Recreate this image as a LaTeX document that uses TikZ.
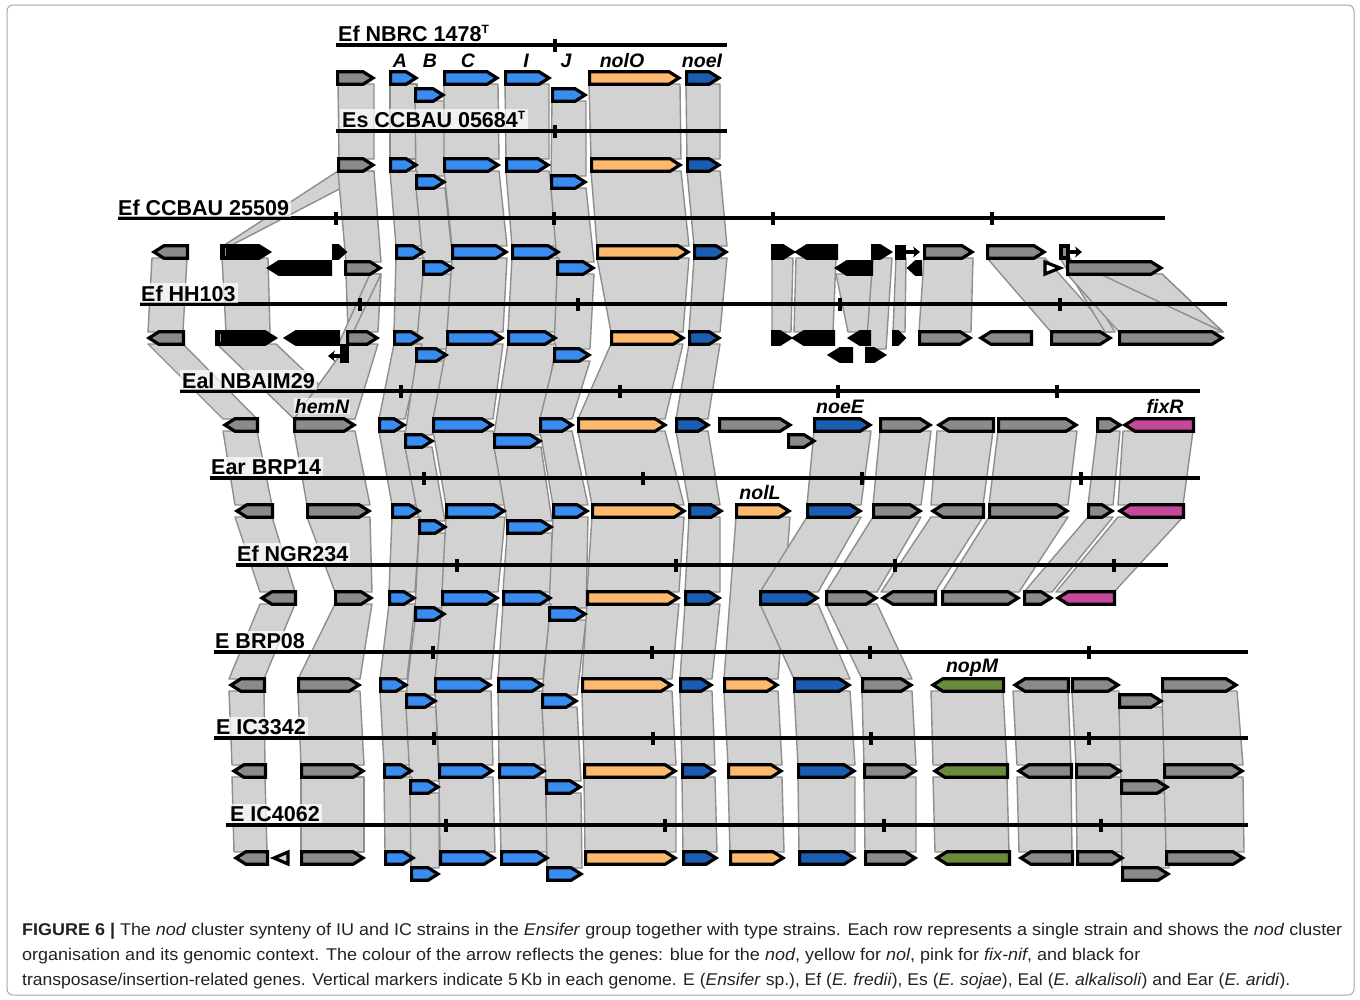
\documentclass[tikz,border=0pt]{standalone}
\usepackage{fontspec}
\setmainfont{Liberation Sans}
\usepackage{graphicx}
\usetikzlibrary{arrows.meta}
\definecolor{gGray}{HTML}{8A8A8A}
\definecolor{gBlue}{HTML}{3A8DF0}
\definecolor{gDark}{HTML}{1C5DB4}
\definecolor{gOrange}{HTML}{FDBA6E}
\definecolor{gPink}{HTML}{C4489C}
\definecolor{gGreen}{HTML}{6B8B3C}
\definecolor{bandF}{HTML}{D2D2D2}
\definecolor{bandL}{HTML}{8E8E8E}
\definecolor{capC}{HTML}{222222}
\tikzset{
  gene/.style={draw=black, line width=3.2pt, line join=miter, miter limit=4},
  band/.style={fill=bandF, draw=bandL, line width=1.4pt, line join=round},
  axis/.style={line width=3.2pt, black},
  tickm/.style={line width=3.4pt, black},
  strain/.style={font=\fontsize{21.5}{24}\selectfont\bfseries, fill=white, fill opacity=0.7, text opacity=1, inner sep=2pt, anchor=base west},
  glabel/.style={font=\fontsize{19.5}{22}\selectfont\bfseries\itshape, fill=white, fill opacity=0.6, text opacity=1, anchor=base, inner sep=1pt},
  captxt/.style={font=\fontsize{17}{20}\selectfont, text=capC, anchor=base west, inner sep=0pt},
  tinyarrow/.style={black, line width=3.2pt, -{Stealth[length=7pt,width=11pt]}},
}
\newcommand\gR[4]{\pgfmathsetmacro\ga{#1+1.6}\pgfmathsetmacro\gb{#2-3.0}\pgfmathsetmacro\gt{min(10,(\gb-\ga)*0.6)}\pgfmathsetmacro\gc{\gb-\gt}%
  \filldraw[gene,fill=#4] (\ga,#3-6.3)--(\gc,#3-6.3)--(\gb,#3)--(\gc,#3+6.3)--(\ga,#3+6.3)--cycle;}
\newcommand\gL[4]{\pgfmathsetmacro\ga{#1+3.0}\pgfmathsetmacro\gb{#2-1.6}\pgfmathsetmacro\gt{min(10,(\gb-\ga)*0.6)}\pgfmathsetmacro\gc{\ga+\gt}%
  \filldraw[gene,fill=#4] (\gb,#3-6.3)--(\gc,#3-6.3)--(\ga,#3)--(\gc,#3+6.3)--(\gb,#3+6.3)--cycle;}
\newcommand\bd[6]{\filldraw[band] (#1,#3)--(#2,#3)--(#5,#6)--(#4,#6)--cycle;}
\newcommand\tk[2]{\draw[tickm] (#1,#2-6.5)--(#1,#2+6.5);}
\begin{document}
\begin{tikzpicture}[x=1pt,y=-1pt]
\useasboundingbox (0,0) rectangle (1360,999);
\fill[white] (0,0) rectangle (1360,999);
\draw[black!35, line width=1pt, rounded corners=6pt] (7,5) rectangle (1354,995);

% ---------------- bands ----------------
% R1 -> R2
\bd{338}{374}{84}{339}{374}{159}
\bd{390}{417}{84}{390}{417}{159}
\bd{415}{444}{101}{416}{445}{176}
\bd{444}{498}{84}{444}{499}{159}
\bd{505}{549}{84}{506}{549}{159}
\bd{552}{586}{101}{551}{586}{176}
\bd{589}{680}{84}{591}{681}{159}
\bd{686}{720}{84}{687}{720}{159}
% R2 -> R3
\bd{338}{374}{171}{223}{230}{246}
\bd{338}{374}{171}{346}{381}{262}
\bd{390}{417}{171}{396}{424}{246}
\bd{416}{445}{188}{423}{453}{262}
\bd{444}{499}{171}{452}{507}{246}
\bd{506}{549}{171}{512}{559}{246}
\bd{551}{586}{188}{557}{594}{262}
\bd{591}{681}{171}{597}{689}{246}
\bd{687}{720}{171}{694}{727}{246}
% R3 -> R4
\bd{152}{187}{258}{148}{183}{332}
\bd{222}{268}{258}{226}{270}{332}
\bd{346}{381}{274}{348}{378}{332}
\bd{370}{381}{274}{338}{347}{345}
\bd{396}{424}{258}{394}{422}{332}
\bd{423}{453}{274}{416}{447}{349}
\bd{452}{507}{258}{447}{503}{332}
\bd{512}{559}{258}{508}{556}{332}
\bd{557}{594}{274}{554}{590}{349}
\bd{597}{689}{258}{611}{683}{332}
\bd{694}{727}{258}{689}{720}{332}
\bd{772}{793}{258}{772}{791}{332}
\bd{796}{836}{258}{794}{833}{332}
\bd{836}{872}{274}{848}{870}{332}
\bd{873}{892}{258}{866}{886}{349}
\bd{896}{906}{258}{893}{905}{332}
\bd{924}{973}{258}{919}{971}{332}
\bd{987}{1045}{258}{1051}{1111}{332}
\bd{1060}{1070}{258}{1105}{1115}{332}
\bd{1067}{1162}{274}{1119}{1223}{332}
\filldraw[band] (1100,274)--(1162,274)--(1223,332)--cycle;
% R4 -> R5
\bd{148}{183}{344}{223}{257}{419}
\bd{217}{276}{344}{294}{355}{419}
\bd{348}{378}{344}{294}{355}{419}
\bd{394}{422}{344}{379}{405}{419}
\bd{416}{447}{361}{405}{432}{435}
\bd{447}{503}{344}{433}{493}{419}
\bd{508}{556}{344}{494}{541}{435}
\bd{554}{590}{361}{540}{572}{419}
\bd{611}{683}{344}{578}{665}{419}
\bd{689}{720}{344}{676}{708}{419}
% R5 -> R6
\bd{223}{257}{431}{235}{272}{505}
\bd{294}{355}{431}{307}{370}{505}
\bd{379}{405}{431}{392}{420}{505}
\bd{405}{432}{447}{419}{445}{521}
\bd{433}{493}{431}{446}{505}{505}
\bd{494}{541}{447}{507}{552}{521}
\bd{540}{572}{431}{553}{588}{505}
\bd{578}{665}{431}{592}{684}{505}
\bd{676}{708}{431}{689}{720}{505}
\bd{814}{871}{431}{807}{861}{505}
\bd{880}{931}{431}{873}{921}{505}
\bd{937}{993}{431}{931}{983}{505}
\bd{998}{1077}{431}{989}{1068}{505}
\bd{1097}{1120}{431}{1088}{1113}{505}
\bd{1123}{1193}{431}{1118}{1183}{505}
% R6 -> R7 (and nolL R6 -> R8)
\bd{736}{790}{517}{724}{778}{679}
\bd{235}{272}{517}{260}{295}{592}
\bd{307}{370}{517}{335}{372}{592}
\bd{392}{420}{517}{389}{415}{592}
\bd{419}{445}{533}{415}{445}{608}
\bd{446}{505}{517}{442}{498}{592}
\bd{507}{552}{533}{503}{551}{592}
\bd{553}{588}{517}{549}{586}{608}
\bd{592}{684}{517}{587}{679}{592}
\bd{689}{720}{517}{685}{720}{592}
\bd{807}{861}{517}{760}{818}{592}
\bd{873}{921}{517}{826}{877}{592}
\bd{931}{983}{517}{881}{935}{592}
\bd{989}{1068}{517}{942}{1019}{592}
\bd{1088}{1113}{517}{1024}{1052}{592}
\bd{1118}{1183}{517}{1056}{1114}{592}
% R7 -> R8
\bd{260}{295}{604}{229}{264}{679}
\bd{335}{372}{604}{298}{360}{679}
\bd{389}{415}{604}{380}{407}{679}
\bd{415}{445}{620}{406}{436}{695}
\bd{442}{498}{604}{435}{491}{679}
\bd{503}{551}{604}{498}{543}{679}
\bd{549}{586}{620}{542}{577}{695}
\bd{587}{679}{604}{582}{672}{679}
\bd{685}{720}{604}{680}{712}{679}
\bd{760}{818}{604}{794}{850}{679}
\bd{826}{877}{604}{862}{912}{679}
% R8 -> R9
\bd{229}{264}{691}{232}{265}{765}
\bd{298}{360}{691}{301}{364}{765}
\bd{380}{407}{691}{384}{412}{765}
\bd{406}{436}{707}{410}{439}{781}
\bd{435}{491}{691}{439}{493}{765}
\bd{498}{543}{691}{499}{545}{765}
\bd{542}{577}{707}{546}{581}{781}
\bd{582}{672}{691}{584}{676}{765}
\bd{680}{712}{691}{682}{715}{765}
\bd{724}{778}{691}{728}{782}{765}
\bd{794}{850}{691}{798}{855}{765}
\bd{862}{912}{691}{864}{916}{765}
\bd{931}{1003}{691}{933}{1007}{765}
\bd{1013}{1068}{691}{1017}{1071}{765}
\bd{1072}{1119}{691}{1076}{1121}{765}
\bd{1119}{1162}{707}{1121}{1168}{781}
\bd{1162}{1237}{691}{1164}{1243}{765}
% R9 -> R10
\bd{232}{265}{777}{234}{267}{852}
\bd{301}{364}{777}{301}{364}{852}
\bd{384}{412}{777}{385}{414}{852}
\bd{410}{439}{793}{411}{439}{868}
\bd{439}{493}{777}{440}{495}{852}
\bd{499}{545}{777}{501}{548}{852}
\bd{546}{581}{793}{547}{582}{868}
\bd{584}{676}{777}{585}{676}{852}
\bd{682}{715}{777}{683}{717}{852}
\bd{728}{782}{777}{730}{784}{852}
\bd{798}{855}{777}{799}{855}{852}
\bd{864}{916}{777}{865}{916}{852}
\bd{933}{1007}{777}{935}{1009}{852}
\bd{1017}{1071}{777}{1019}{1072}{852}
\bd{1076}{1121}{777}{1077}{1123}{852}
\bd{1121}{1168}{793}{1122}{1169}{868}
\bd{1164}{1243}{777}{1166}{1244}{852}

% ---------------- scale lines ----------------
\draw[axis] (336,45)--(727,45); \tk{555}{45}
\draw[axis] (336,131)--(727,131); \tk{555}{131}
\draw[axis] (118,218)--(1165,218); \tk{336}{218}\tk{554}{218}\tk{773}{218}\tk{992}{218}
\draw[axis] (140,304)--(1227,304); \tk{360}{304}\tk{578}{304}\tk{840}{304}\tk{1060}{304}
\draw[axis] (180,391)--(1200,391); \tk{401}{391}\tk{620}{391}\tk{838}{391}\tk{1057}{391}
\draw[axis] (210,478)--(1200,478); \tk{424}{478}\tk{643}{478}\tk{862}{478}\tk{1081}{478}
\draw[axis] (236,565)--(1168,565); \tk{457}{565}\tk{676}{565}\tk{895}{565}\tk{1114}{565}
\draw[axis] (214,652)--(1248,652); \tk{433}{652}\tk{652}{652}\tk{870}{652}\tk{1089}{652}
\draw[axis] (214,738)--(1248,738); \tk{434}{738}\tk{653}{738}\tk{871}{738}\tk{1089}{738}
\draw[axis] (226,825)--(1248,825); \tk{446}{825}\tk{665}{825}\tk{884}{825}\tk{1101}{825}

% ---------------- strain labels ----------------
\node[strain] (s1) at (336,41) {Ef NBRC 1478\textsuperscript{\fontsize{12}{12}\selectfont T}};
\node[strain] (s2) at (340,127) {Es CCBAU 05684\textsuperscript{\fontsize{12}{12}\selectfont T}};
\node[strain] (s3) at (116,215) {Ef CCBAU 25509};
\node[strain] (s4) at (139,301) {Ef HH103};
\node[strain] (s5) at (180,388) {Eal NBAIM29};
\node[strain] (s6) at (209,474) {Ear BRP14};
\node[strain] (s7) at (235,561) {Ef NGR234};
\node[strain] (s8) at (213,648) {E BRP08};
\node[strain] (s9) at (214,734) {E IC3342};
\node[strain] (s10) at (228,821) {E IC4062};

% ---------------- gene labels ----------------
\node[glabel] (lA) at (400,67) {A};
\node[glabel] (lB) at (430,67) {B};
\node[glabel] (lC) at (468,67) {C};
\node[glabel] (lI) at (526,67) {I};
\node[glabel] (lJ) at (566,67) {J};
\node[glabel] (lO) at (622,67) {nolO};
\node[glabel] (lN) at (702,67) {noeI};
\node[glabel] (lH) at (322,413) {hemN};
\node[glabel] (lE) at (840,413) {noeE};
\node[glabel] (lF) at (1165,413) {fixR};
\node[glabel] (lL) at (760,499) {nolL};
\node[glabel] (lM) at (972,672) {nopM};

% ---------------- genes ----------------
% Row 1
\gR{336}{376}{78}{gGray}
\gR{389}{419}{78}{gBlue}
\gR{414}{446}{95}{gBlue}
\gR{443}{500}{78}{gBlue}
\gR{504}{552}{78}{gBlue}
\gR{551}{588}{95}{gBlue}
\gR{588}{682}{78}{gOrange}
\gR{685}{722}{78}{gDark}
% Row 2
\gR{337}{376}{165}{gGray}
\gR{389}{419}{165}{gBlue}
\gR{415}{447}{182}{gBlue}
\gR{443}{501}{165}{gBlue}
\gR{505}{551}{165}{gBlue}
\gR{550}{588}{182}{gBlue}
\gR{590}{683}{165}{gOrange}
\gR{686}{722}{165}{gDark}
% Row 3
\gL{151}{189}{252}{gGray}
\gR{220}{272}{252}{black}
\draw[black!45, line width=1pt] (225,248)--(225,256);
\gR{332}{348}{252}{black}
\gL{266}{332}{268}{black}
\gR{344}{383}{268}{gGray}
\gR{395}{426}{252}{gBlue}
\gR{422}{455}{268}{gBlue}
\gR{451}{509}{252}{gBlue}
\gR{511}{561}{252}{gBlue}
\gR{556}{596}{268}{gBlue}
\gR{596}{691}{252}{gOrange}
\gR{693}{729}{252}{gDark}
\gR{771}{796}{252}{black}
\gL{794}{838}{252}{black}
\gR{871}{893}{252}{black}
\fill[black] (895,244.5) rectangle (906,259.5);
\draw[tinyarrow] (905,252)--(920,252);
\gL{834}{873}{268}{black}
\gL{906}{922}{268}{black}
\gR{923}{975}{252}{gGray}
\gR{986}{1047}{252}{gGray}
\filldraw[gene, fill=gGray] (1061,246) rectangle (1068,258);
\draw[tinyarrow] (1068,252)--(1082,252);
\filldraw[gene, fill=white] (1045,262)--(1060,268)--(1045,274)--cycle;
\gR{1066}{1164}{268}{gGray}
% Row 4
\gL{146}{185}{338}{gGray}
\gR{215}{278}{338}{black}
\draw[black!45, line width=1pt] (220,334)--(220,342);
\gL{283}{340}{338}{black}
\gR{346}{380}{338}{gGray}
\fill[black] (340,344) rectangle (349,363);
\draw[tinyarrow] (342,356)--(328,356);
\gR{393}{424}{338}{gBlue}
\gR{415}{449}{355}{gBlue}
\gR{446}{505}{338}{gBlue}
\gR{507}{558}{338}{gBlue}
\gR{553}{592}{355}{gBlue}
\gR{610}{686}{338}{gOrange}
\gR{688}{722}{338}{gDark}
\gR{771}{793}{338}{black}
\gL{791}{835}{338}{black}
\gL{847}{871}{338}{black}
\gR{892}{907}{338}{black}
\gR{918}{973}{338}{gGray}
\gL{978}{1033}{338}{gGray}
\gR{1050}{1113}{338}{gGray}
\gR{1118}{1225}{338}{gGray}
\gL{827}{853}{355}{black}
\gR{865}{887}{355}{black}
% Row 5
\gL{222}{259}{425}{gGray}
\gR{293}{357}{425}{gGray}
\gR{378}{407}{425}{gBlue}
\gR{404}{435}{441}{gBlue}
\gR{432}{495}{425}{gBlue}
\gR{493}{543}{441}{gBlue}
\gR{539}{575}{425}{gBlue}
\gR{577}{668}{425}{gOrange}
\gR{675}{711}{425}{gDark}
\gR{718}{793}{425}{gGray}
\gR{787}{817}{441}{gGray}
\gR{813}{873}{425}{gDark}
\gR{879}{933}{425}{gGray}
\gL{936}{995}{425}{gGray}
\gR{997}{1079}{425}{gGray}
\gR{1096}{1123}{425}{gGray}
\gL{1122}{1195}{425}{gPink}
% Row 6
\gL{234}{274}{511}{gGray}
\gR{306}{372}{511}{gGray}
\gR{391}{422}{511}{gBlue}
\gR{418}{448}{527}{gBlue}
\gR{445}{507}{511}{gBlue}
\gR{506}{554}{527}{gBlue}
\gR{552}{590}{511}{gBlue}
\gR{591}{687}{511}{gOrange}
\gR{688}{724}{511}{gDark}
\gR{735}{792}{511}{gOrange}
\gR{806}{863}{511}{gDark}
\gR{872}{923}{511}{gGray}
\gL{930}{985}{511}{gGray}
\gR{988}{1070}{511}{gGray}
\gR{1087}{1115}{511}{gGray}
\gL{1117}{1185}{511}{gPink}
% Row 7
\gL{259}{297}{598}{gGray}
\gR{334}{374}{598}{gGray}
\gR{388}{417}{598}{gBlue}
\gR{414}{447}{614}{gBlue}
\gR{441}{500}{598}{gBlue}
\gR{502}{553}{598}{gBlue}
\gR{548}{588}{614}{gBlue}
\gR{586}{681}{598}{gOrange}
\gR{684}{722}{598}{gDark}
\gR{759}{820}{598}{gDark}
\gR{825}{879}{598}{gGray}
\gL{880}{937}{598}{gGray}
\gR{941}{1021}{598}{gGray}
\gR{1023}{1054}{598}{gGray}
\gL{1055}{1116}{598}{gPink}
% Row 8
\gL{228}{266}{685}{gGray}
\gR{297}{362}{685}{gGray}
\gR{379}{409}{685}{gBlue}
\gR{405}{438}{701}{gBlue}
\gR{434}{493}{685}{gBlue}
\gR{497}{545}{685}{gBlue}
\gR{541}{579}{701}{gBlue}
\gR{581}{674}{685}{gOrange}
\gR{679}{714}{685}{gDark}
\gR{723}{780}{685}{gOrange}
\gR{793}{852}{685}{gDark}
\gR{861}{914}{685}{gGray}
\gL{930}{1005}{685}{gGreen}
\gL{1012}{1070}{685}{gGray}
\gR{1071}{1121}{685}{gGray}
\gR{1118}{1164}{701}{gGray}
\gR{1161}{1239}{685}{gGray}
% Row 9
\gL{231}{267}{771}{gGray}
\gR{300}{366}{771}{gGray}
\gR{383}{414}{771}{gBlue}
\gR{409}{441}{787}{gBlue}
\gR{438}{495}{771}{gBlue}
\gR{498}{547}{771}{gBlue}
\gR{545}{583}{787}{gBlue}
\gR{583}{678}{771}{gOrange}
\gR{681}{717}{771}{gDark}
\gR{727}{784}{771}{gOrange}
\gR{797}{857}{771}{gDark}
\gR{863}{918}{771}{gGray}
\gL{932}{1009}{771}{gGreen}
\gL{1016}{1073}{771}{gGray}
\gR{1075}{1123}{771}{gGray}
\gR{1120}{1170}{787}{gGray}
\gR{1163}{1245}{771}{gGray}
% Row 10
\gL{233}{269}{858}{gGray}
\filldraw[gene, fill=bandF] (288,852)--(274,858)--(288,864)--cycle;
\gR{300}{366}{858}{gGray}
\gR{384}{416}{858}{gBlue}
\gR{410}{441}{874}{gBlue}
\gR{439}{497}{858}{gBlue}
\gR{500}{550}{858}{gBlue}
\gR{546}{584}{874}{gBlue}
\gR{584}{678}{858}{gOrange}
\gR{682}{719}{858}{gDark}
\gR{729}{786}{858}{gOrange}
\gR{798}{857}{858}{gDark}
\gR{864}{918}{858}{gGray}
\gL{934}{1011}{858}{gGreen}
\gL{1018}{1074}{858}{gGray}
\gR{1076}{1125}{858}{gGray}
\gR{1121}{1171}{874}{gGray}
\gR{1165}{1246}{858}{gGray}

% ---------------- caption ----------------
\node[captxt] (c1) at (22,935) {\resizebox{1320pt}{\height}{\textbf{FIGURE 6 |} The \textit{nod} cluster synteny of IU and IC strains in the \textit{Ensifer} group together with type strains. Each row represents a single strain and shows the \textit{nod} cluster}};
\node[captxt] (c2) at (22,960) {\resizebox{1118pt}{\height}{organisation and its genomic context. The colour of the arrow reflects the genes: blue for the \textit{nod}, yellow for \textit{nol}, pink for \textit{fix-nif}, and black for}};
\node[captxt] (c3) at (22,985) {\resizebox{1268pt}{\height}{transposase/insertion-related genes. Vertical markers indicate 5\,Kb in each genome. E (\textit{Ensifer} sp.), Ef (\textit{E. fredii}), Es (\textit{E. sojae}), Eal (\textit{E. alkalisoli}) and Ear (\textit{E. aridi}).}};
\end{tikzpicture}
\end{document}
